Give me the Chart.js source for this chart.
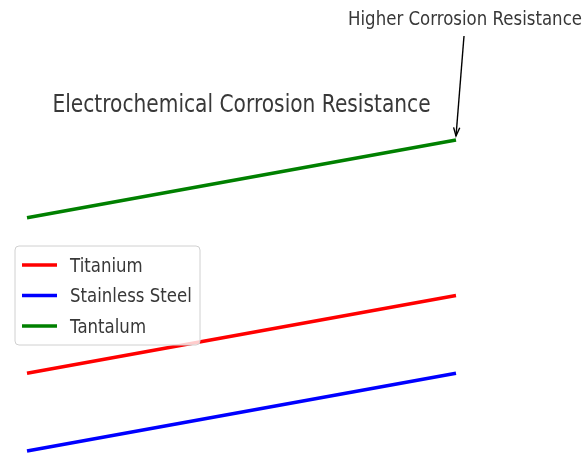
<!DOCTYPE html>
<html>
<head>
<meta charset="utf-8">
<script src="https://cdn.jsdelivr.net/npm/chart.js@4"></script>
<style>
  html, body { margin: 0; padding: 0; background: #fff; }
  #wrap { width: 587px; height: 456px; }
</style>
</head>
<body>
<div id="wrap"><canvas id="corrosion"></canvas></div>
<script>
const steps = ['1', '2'];
const titanium = [2, 3];
const stainlessSteel = [1, 2];
const tantalum = [4, 5];
const seriesNames = ['Titanium', 'Stainless Steel', 'Tantalum'];
const titleText = 'Electrochemical Corrosion Resistance';
const noteText = 'Higher Corrosion Resistance';

const FONT = '"DejaVu Sans", sans-serif';
const STRETCH = 1.22; // text in the picture is a bit taller than wide

function tallText(ctx, text, x, y) {
  ctx.save();
  ctx.translate(x, y);
  ctx.scale(1, STRETCH);
  ctx.fillText(text, 0, 0);
  ctx.restore();
}

// title, note with arrow and a matplotlib-like legend
const overlay = {
  id: 'overlay',
  afterDatasetsDraw(chart) {
    const ctx = chart.ctx;
    const area = chart.chartArea;
    ctx.save();

    ctx.fillStyle = '#383838';
    ctx.textBaseline = 'alphabetic';
    ctx.textAlign = 'center';
    ctx.font = '20.2px ' + FONT;
    tallText(ctx, titleText, (area.left + area.right) / 2, 112);

    // annotation
    const tip = chart.getDatasetMeta(2).data[1];
    ctx.font = '16.6px ' + FONT;
    tallText(ctx, noteText, 465, 25);
    const sx = 464, sy = 36;
    const ex = tip.x, ey = tip.y - 4;
    ctx.strokeStyle = '#000';
    ctx.lineWidth = 1.4;
    ctx.beginPath();
    ctx.moveTo(sx, sy);
    ctx.lineTo(ex, ey);
    ctx.stroke();
    const ang = Math.atan2(ey - sy, ex - sx);
    ctx.beginPath();
    ctx.moveTo(ex - 9 * Math.cos(ang - 0.35), ey - 9 * Math.sin(ang - 0.35));
    ctx.lineTo(ex, ey);
    ctx.lineTo(ex - 9 * Math.cos(ang + 0.35), ey - 9 * Math.sin(ang + 0.35));
    ctx.stroke();

    // legend box
    const bx = 15, by = 246, bw = 185, bh = 99, r = 4;
    ctx.beginPath();
    ctx.moveTo(bx + r, by);
    ctx.arcTo(bx + bw, by, bx + bw, by + bh, r);
    ctx.arcTo(bx + bw, by + bh, bx, by + bh, r);
    ctx.arcTo(bx, by + bh, bx, by, r);
    ctx.arcTo(bx, by, bx + bw, by, r);
    ctx.closePath();
    ctx.fillStyle = 'rgba(255,255,255,0.8)';
    ctx.fill();
    ctx.strokeStyle = '#d0d0d0';
    ctx.lineWidth = 1;
    ctx.stroke();

    ctx.textAlign = 'left';
    ctx.font = '16.6px ' + FONT;
    chart.data.datasets.forEach((ds, i) => {
      const y = 265 + i * 30.5;
      ctx.strokeStyle = ds.borderColor;
      ctx.lineWidth = 3.5;
      ctx.beginPath();
      ctx.moveTo(22, y);
      ctx.lineTo(57, y);
      ctx.stroke();
      ctx.fillStyle = '#383838';
      tallText(ctx, ds.label, 70, y + 6.5);
    });
    ctx.restore();
  }
};

new Chart(document.getElementById('corrosion'), {
  type: 'line',
  data: {
    labels: steps,
    datasets: [
      { label: seriesNames[0], data: titanium, borderColor: '#ff0000' },
      { label: seriesNames[1], data: stainlessSteel, borderColor: '#0000ff' },
      { label: seriesNames[2], data: tantalum, borderColor: '#008000' }
    ].map(d => Object.assign(d, { borderWidth: 3.5, pointRadius: 0, fill: false, clip: false, tension: 0 }))
  },
  options: {
    responsive: true,
    maintainAspectRatio: false,
    animation: false,
    layout: { padding: { left: 27, right: 131, top: 140, bottom: 5 } },
    plugins: { legend: { display: false }, title: { display: false }, tooltip: { enabled: false } },
    scales: {
      x: { display: false },
      y: { display: false, min: 1, max: 5 }
    }
  },
  plugins: [overlay]
});
</script>
</body>
</html>
